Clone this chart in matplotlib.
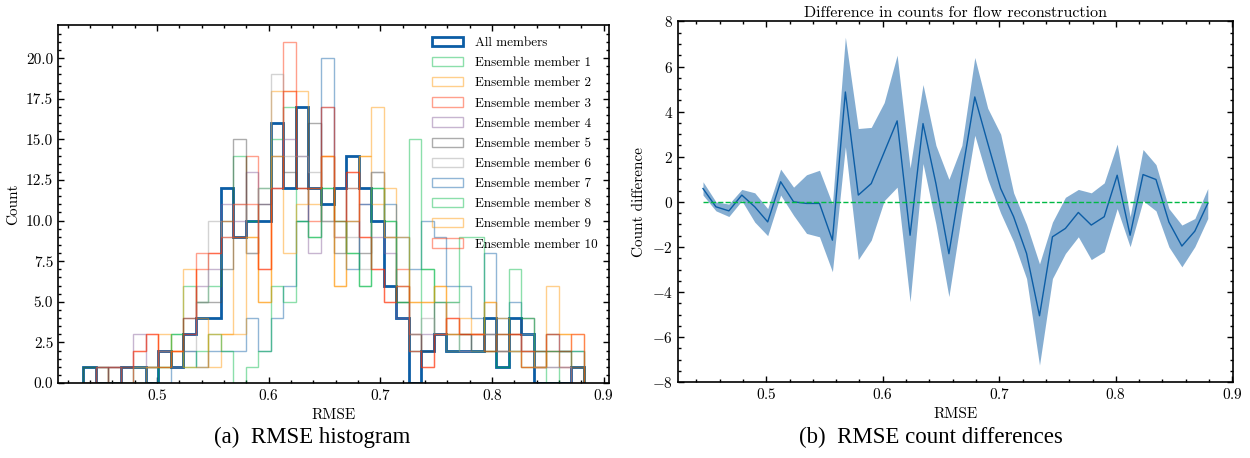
import numpy as np
import matplotlib
matplotlib.use("Agg")
import matplotlib.pyplot as plt

plt.rcParams['font.family'] = 'serif'
plt.rcParams['font.serif'] = ['cmr10']
plt.rcParams['mathtext.fontset'] = 'cm'
plt.rcParams['axes.formatter.use_mathtext'] = True
plt.rcParams['font.size'] = 11

# histogram bins (RMSE)
bin_lo, bin_hi, n_bins = 0.4339, 0.8822, 40

all_members = [1, 0, 0, 1, 1, 0, 2, 1, 3, 4, 4, 12, 9, 10, 10, 16, 12, 17, 12, 11,
               12, 14, 12, 10, 6, 4, 0, 2, 3, 2, 2, 2, 4, 1, 4, 3, 0, 0, 0, 1]

member_counts = [
    [1, 1, 0, 0, 1, 1, 1, 3, 6, 5, 6, 10, 14, 10, 12, 15, 17, 10, 9, 12,
     10, 8, 6, 12, 10, 5, 2, 7, 3, 2, 3, 2, 2, 1, 2, 1, 2, 0, 2, 1],
    [0, 1, 0, 1, 1, 1, 3, 2, 7, 4, 1, 3, 9, 9, 5, 18, 18, 18, 11, 14,
     6, 12, 14, 11, 12, 6, 5, 5, 6, 3, 3, 3, 5, 2, 3, 1, 1, 3, 3, 1],
    [0, 0, 1, 1, 2, 3, 2, 2, 4, 8, 8, 10, 9, 14, 7, 12, 21, 12, 10, 14,
     9, 13, 9, 7, 5, 7, 3, 1, 3, 4, 3, 3, 2, 3, 3, 1, 1, 2, 1, 0],
    [0, 1, 0, 1, 3, 1, 2, 1, 3, 6, 7, 11, 10, 13, 11, 12, 15, 14, 8, 17,
     12, 12, 11, 9, 8, 4, 2, 3, 3, 2, 2, 3, 3, 2, 2, 2, 1, 1, 1, 1],
    [1, 0, 1, 1, 1, 1, 2, 1, 4, 5, 5, 7, 15, 8, 11, 14, 13, 12, 16, 10,
     8, 10, 8, 13, 9, 5, 3, 2, 5, 3, 3, 2, 3, 2, 3, 4, 1, 2, 2, 1],
    [0, 1, 1, 0, 1, 1, 2, 1, 2, 5, 10, 9, 11, 8, 12, 19, 14, 14, 13, 10,
     9, 9, 7, 13, 9, 6, 3, 4, 3, 5, 2, 2, 3, 2, 2, 3, 1, 1, 1, 0],
    [0, 1, 1, 0, 0, 0, 0, 1, 2, 1, 2, 2, 2, 4, 2, 4, 6, 10, 12, 20,
     12, 7, 11, 10, 11, 9, 7, 10, 9, 6, 6, 4, 8, 4, 5, 2, 2, 3, 2, 2],
    [0, 0, 0, 0, 0, 0, 1, 3, 1, 2, 3, 2, 0, 1, 2, 6, 5, 10, 9, 12,
     10, 8, 6, 12, 10, 5, 15, 7, 5, 5, 9, 9, 2, 3, 7, 4, 2, 2, 2, 2],
    [0, 0, 0, 0, 0, 1, 1, 2, 1, 1, 3, 3, 3, 9, 5, 14, 8, 11, 12, 14,
     6, 10, 14, 17, 9, 9, 5, 5, 6, 3, 4, 3, 5, 4, 2, 2, 1, 6, 3, 3],
    [0, 1, 1, 0, 2, 3, 1, 2, 3, 7, 8, 9, 11, 11, 7, 12, 18, 12, 12, 17,
     10, 13, 9, 7, 5, 6, 2, 1, 3, 4, 3, 3, 2, 3, 3, 2, 2, 3, 2, 3],
]

# count difference per RMSE bin: mean and spread
diff_mean = [0.59, -0.22, -0.40, 0.30, -0.22, -0.89, 0.89, 0.0, -0.07, -0.07,
             -1.70, 4.87, 0.30, 0.81, 2.2, 3.59, -1.48, 3.47, 0.8, -2.3,
             1.2, 4.65, 2.6, 0.59, -0.66, -2.29, -5.05, -1.55, -1.18, -0.47,
             -1.03, -0.66, 1.18, -1.48, 1.21, 0.99, -0.9, -1.96, -1.3, -0.07]
diff_upper = [0.89, 0.0, -0.1, 0.55, 0.4, -0.3, 1.45, 0.65, 1.2, 1.4,
              -0.1, 7.3, 3.25, 3.3, 4.4, 6.5, 1.5, 5.2, 2.5, 1.0,
              2.5, 6.4, 4.15, 3.0, 0.4, -1.0, -2.75, -0.9, 0.2, 0.55,
              0.4, 0.84, 2.56, -0.66, 2.32, 1.65, -0.3, -1.03, -0.74, 0.59]
diff_lower = [0.3, -0.4, -0.65, 0.05, -0.9, -1.5, 0.3, -0.6, -1.4, -1.55,
              -3.1, 2.44, -2.56, -1.7, 0.05, 0.65, -4.43, 1.7, -1.0, -4.2,
              -0.5, 2.95, 1.0, -0.5, -1.77, -3.4, -7.24, -3.4, -2.29, -1.55,
              -2.56, -2.21, -0.3, -1.99, 0.05, -0.4, -2.0, -2.88, -1.99, -0.74]
diff_x_first, diff_x_last = 0.4457, 0.8789

colors = ['#00B945', '#FF9500', '#FF2C00', '#845B97', '#474747', '#9e9e9e', '#0C5DA5']
blue = '#0C5DA5'

edges = np.linspace(bin_lo, bin_hi, n_bins + 1)
diff_x = np.linspace(diff_x_first, diff_x_last, len(diff_mean))

fig = plt.figure(figsize=(12.5, 4.58), dpi=100)
ax1 = fig.add_axes([0.0464, 0.1638, 0.4408, 0.7817])
ax2 = fig.add_axes([0.5422, 0.1653, 0.4442, 0.788])

ax1.hist(edges[:-1], bins=edges, weights=all_members, histtype='step',
         color=blue, lw=2, label='All members')
for i, counts in enumerate(member_counts):
    ax1.hist(edges[:-1], bins=edges, weights=counts, histtype='step',
             color=colors[i % len(colors)], lw=1, alpha=0.45,
             label=f'Ensemble member {i + 1}')
ax1.set_xlabel('RMSE')
ax1.set_ylabel('Count')
ax1.set_xticks([0.5, 0.6, 0.7, 0.8, 0.9])
ax1.set_xticks(np.arange(0.42, 0.901, 0.02), minor=True)
ax1.set_yticks(np.arange(0, 20.1, 2.5))
ax1.set_yticks(np.arange(0, 22, 0.5), minor=True)
ax1.yaxis.set_major_formatter(matplotlib.ticker.FormatStrFormatter('%.1f'))
ax1.legend(frameon=False, loc='upper right', fontsize=9.5, handlelength=2.3,
           handletextpad=0.9, labelspacing=0.6)

ax2.fill_between(diff_x, diff_lower, diff_upper, color=blue, alpha=0.5, lw=0)
ax2.plot(diff_x, diff_mean, color=blue, lw=1)
ax2.plot(diff_x, np.zeros(len(diff_x)), color='#00B945', ls='--', lw=1)
ax2.set_ylim(-8, 8)
ax2.set_xlabel('RMSE')
ax2.set_ylabel('Count difference')
ax2.set_title('Difference in counts for flow reconstruction', fontsize=11.5, pad=3)
ax2.set_xticks([0.5, 0.6, 0.7, 0.8, 0.9])
ax2.set_xticks(np.arange(0.44, 0.901, 0.02), minor=True)
ax2.set_yticks(np.arange(-8, 8.1, 2))
ax2.set_yticks(np.arange(-8, 8.1, 0.5), minor=True)

for ax in (ax1, ax2):
    ax.tick_params(which='both', direction='in', top=True, right=True)
    ax.tick_params(which='major', length=4, width=1)
    ax.tick_params(which='minor', length=2, width=1)
    for s in ax.spines.values():
        s.set_linewidth(1.2)

fig.text(0.25, 0.045, '(a)  RMSE histogram', family='Liberation Serif', fontsize=16.5,
         ha='center', va='center')
fig.text(0.745, 0.045, '(b)  RMSE count differences', family='Liberation Serif',
         fontsize=16.5, ha='center', va='center')

fig.savefig('out.png', dpi=100)
